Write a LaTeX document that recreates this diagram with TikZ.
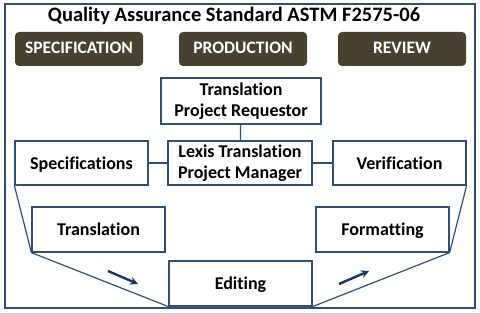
\documentclass[tikz,border=0pt]{standalone}
\usepackage{fontspec}
\setmainfont{Carlito}[Ligatures={NoCommon}]
\usepackage{xcolor}
\usetikzlibrary{arrows.meta,positioning}
\definecolor{edge}{HTML}{34506E}
\definecolor{phase}{HTML}{4A4230}
\definecolor{navy}{HTML}{1F3766}

\begin{document}
\begin{tikzpicture}[x=1pt,y=-1pt,
  task/.style={draw=edge,line width=1.2pt,fill=white,align=center,
               inner sep=0pt,font=\fontsize{18}{21}\selectfont\bfseries},
  oneline/.style={text height=14pt,text depth=2pt},
  phasebox/.style={fill=phase,rounded corners=4pt,text=white,
               minimum width=128pt,minimum height=34pt,
               text height=13pt,text depth=3pt,
               font=\fontsize{17.5}{20}\selectfont\bfseries},
  link/.style={draw=edge,line width=1.2pt},
  flow/.style={-{Stealth[length=8pt,width=8pt]},navy,line width=2.4pt}
]
\useasboundingbox (0,0) rectangle (480,313);
\draw[edge,line width=1.3pt] (5,4) rectangle (475,308);
\node[font=\fontsize{20.5}{22}\selectfont\bfseries] (title) at (234,16)
  {Quality Assurance Standard ASTM F2575-06};
\node[phasebox] (spec) at (79,49) {SPECIFICATION};
\node[phasebox] (prod) at (243,49) {PRODUCTION};
\node[phasebox] (rev) at (402,49) {REVIEW};
% main boxes
\node[task,minimum width=160pt,minimum height=46pt] (req) at (241,101)
  {Translation\\Project Requestor};
\node[task,minimum width=144pt,minimum height=44pt] (pm) at (240,163)
  {Lexis Translation\\Project Manager};
\node[task,oneline,minimum width=133pt,minimum height=44pt] (specs) at (81.5,163)
  {Specifications};
\node[task,oneline,minimum width=133pt,minimum height=44pt] (verif) at (399.5,163)
  {Verification};
\node[task,oneline,minimum width=133pt,minimum height=45pt] (transl) at (98.5,229.5)
  {Translation};
\node[task,oneline,minimum width=133pt,minimum height=45pt] (fmt) at (382.5,229.5)
  {Formatting};
\node[task,oneline,minimum width=143pt,minimum height=45pt] (edit) at (240.5,283.5)
  {Editing};
\draw[link] (req) -- (pm);
\draw[link] (specs) -- (pm);
\draw[link] (pm) -- (verif);
\draw[link] (specs.south west) -- (transl.south west) -- (edit.south west);
\draw[link] (verif.south east) -- (fmt.south east) -- (edit.south east);
% arrows
\coordinate (a1) at (108,271);
\coordinate (a2) at (138,284);
\coordinate (b1) at (339,284);
\coordinate (b2) at (369,271);
\draw[flow] (a1) -- (a2);
\draw[flow] (b1) -- (b2);
\end{tikzpicture}
\end{document}
